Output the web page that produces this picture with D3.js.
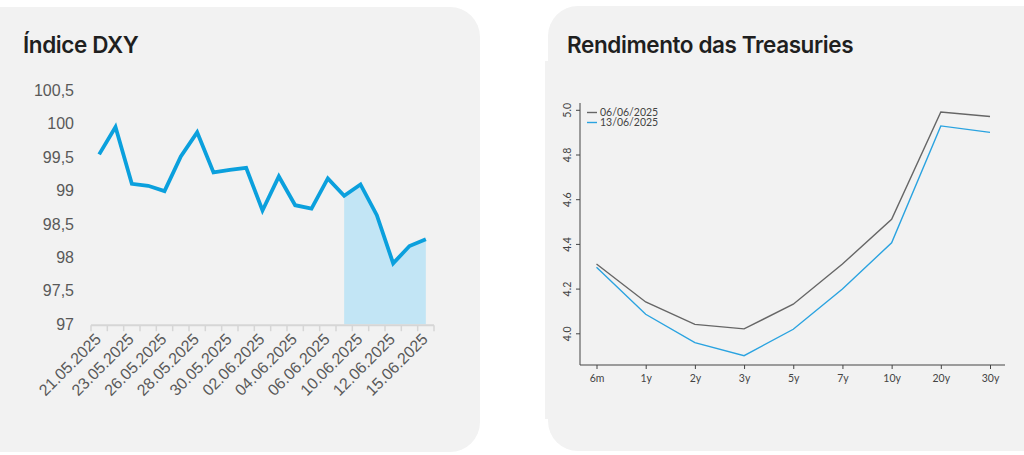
<!DOCTYPE html>
<html><head><meta charset="utf-8">
<script src="https://cdn.jsdelivr.net/npm/d3@7"></script>
<style>html,body{margin:0;padding:0;background:#fff;}svg{display:block;}</style>
</head><body>
<svg id="c" width="1024" height="455"></svg>
<script>
// ---- Data: Índice DXY ----
const dxyDates = ["21.05.2025","22.05.2025","23.05.2025","25.05.2025","26.05.2025","27.05.2025","28.05.2025","29.05.2025","30.05.2025","01.06.2025","02.06.2025","03.06.2025","04.06.2025","05.06.2025","06.06.2025","09.06.2025","10.06.2025","11.06.2025","12.06.2025","13.06.2025","15.06.2025"];
const dxyValues = [99.54,99.95,99.10,99.07,98.99,99.51,99.87,99.27,99.31,99.34,98.70,99.21,98.78,98.73,99.18,98.92,99.09,98.63,97.91,98.17,98.27];
const dxyShadeFrom = "09.06.2025";
const dxyTicks = [97,97.5,98,98.5,99,99.5,100,100.5];
const dxyTickLabels = ["97","97,5","98","98,5","99","99,5","100","100,5"];

// ---- Data: Treasuries ----
const tenors = ["6m","1y","2y","3y","5y","7y","10y","20y","30y"];
const yield0606 = [4.31,4.14,4.04,4.02,4.13,4.31,4.51,4.99,4.97];
const yield1306 = [4.295,4.085,3.958,3.90,4.018,4.198,4.405,4.928,4.899];
const seriesNames = ["06/06/2025","13/06/2025"];
const yTicksT = [4.0,4.2,4.4,4.6,4.8,5.0];

const svg = d3.select("#c");
const bg = "#f2f2f2";

// Panels
svg.append("rect").attr("x",-30).attr("y",7).attr("width",510).attr("height",445).attr("rx",30).attr("fill",bg);
svg.append("rect").attr("x",548).attr("y",6).attr("width",506).attr("height",445).attr("rx",30).attr("fill",bg);
svg.append("rect").attr("x",545).attr("y",61).attr("width",470).attr("height",358).attr("fill",bg);

const titleFont = "Inter, 'Open Sans', sans-serif";
svg.append("text").attr("x",23).attr("y",53).attr("font-family",titleFont).attr("font-weight",600)
  .attr("font-size",22.5).attr("fill","#1f1f1f").attr("letter-spacing","-0.4").text("Índice DXY");
svg.append("text").attr("x",567).attr("y",53).attr("font-family",titleFont).attr("font-weight",600)
  .attr("font-size",22.5).attr("fill","#1f1f1f").attr("letter-spacing","-0.4").text("Rendimento das Treasuries");

// ---- Left chart ----
const L = {x0:91, x1:434, yTop:90.2, yBot:324.2};
const xB = d3.scaleBand().domain(dxyDates).range([L.x0,L.x1]).padding(0);
const yL = d3.scaleLinear().domain([97,100.5]).range([L.yBot,L.yTop]);
const cx = d => xB(d) + xB.bandwidth()/2;
const labFont = "'Liberation Sans', Arial, sans-serif";

const g1 = svg.append("g");
// Shaded area
const shadeIdx = dxyDates.indexOf(dxyShadeFrom);
const shadeData = dxyDates.map((d,i)=>({d,v:dxyValues[i]})).slice(shadeIdx);
g1.append("path").datum(shadeData)
  .attr("d", d3.area().x(p=>cx(p.d)).y0(yL(97)).y1(p=>yL(p.v)))
  .attr("fill","#c2e5f5");

// X axis
const ax = g1.append("g").attr("transform",`translate(0,${yL(97)+1})`);
ax.append("line").attr("x1",L.x0).attr("x2",L.x1).attr("y1",0).attr("y2",0).attr("stroke","#d6d6d6").attr("stroke-width",2);
const edges = dxyDates.map(d=>xB(d)).concat([L.x1]);
ax.selectAll("line.tk").data(edges).join("line").attr("class","tk")
  .attr("x1",d=>d).attr("x2",d=>d).attr("y1",0).attr("y2",6).attr("stroke","#d6d6d6").attr("stroke-width",1.5);
ax.selectAll("text.xl").data(dxyDates.filter((d,i)=>i%2===0)).join("text").attr("class","xl")
  .attr("transform",d=>`translate(${cx(d)+3},${15}) rotate(-45)`)
  .attr("text-anchor","end").attr("font-family",labFont)
  .attr("font-size",16).attr("fill","#595959").text(d=>d);

// Y labels
const yAxisL = d3.axisLeft(yL).tickValues(dxyTicks).tickFormat((d,i)=>dxyTickLabels[i]).tickSize(0).tickPadding(0);
const ay = g1.append("g").attr("transform","translate(74,0)").call(yAxisL);
ay.select(".domain").remove();
ay.selectAll("text").attr("font-family",labFont).attr("font-size",16).attr("fill","#595959");

// Line
g1.append("path").datum(dxyValues)
  .attr("d", d3.line().x((v,i)=>cx(dxyDates[i])).y(v=>yL(v)))
  .attr("fill","none").attr("stroke","#0ba0dd").attr("stroke-width",3.8).attr("stroke-linejoin","miter");

// ---- Right chart ----
const R = {x0:580, x1:1005, yTop:103, yBot:365};
const xP = d3.scalePoint().domain(tenors).range([596.5,990]);
const yR = d3.scaleLinear().domain([4.0,5.0]).range([333.3,109.8]);
const g2 = svg.append("g");
const tickFont = "Lato, 'Open Sans', sans-serif";

g2.append("line").attr("x1",R.x0).attr("x2",R.x0).attr("y1",R.yTop).attr("y2",R.yBot).attr("stroke","#444").attr("stroke-width",1);
g2.append("line").attr("x1",R.x0).attr("x2",R.x1).attr("y1",R.yBot).attr("y2",R.yBot).attr("stroke","#444").attr("stroke-width",1);

const axB = d3.axisBottom(xP).tickSize(4).tickPadding(6).tickSizeOuter(0);
const gxb = g2.append("g").attr("transform",`translate(0,${R.yBot})`).call(axB);
gxb.select(".domain").remove();
gxb.selectAll("line").attr("stroke","#444");
gxb.selectAll("text").attr("font-family",tickFont).attr("font-size",10.5).attr("fill","#444");

const axLft = d3.axisLeft(yR).tickValues(yTicksT).tickFormat(d3.format(".1f")).tickSize(4).tickPadding(0);
const gyl = g2.append("g").attr("transform",`translate(${R.x0},0)`).call(axLft);
gyl.select(".domain").remove();
gyl.selectAll("line").attr("stroke","#444");
gyl.selectAll("text").attr("font-family",tickFont).attr("font-size",10.5).attr("fill","#444")
  .attr("text-anchor","middle").attr("x",0).attr("dy",0)
  .attr("transform","translate(-12.5,0) rotate(-90)").attr("y",3.5);

const colors = ["#666666","#2aa3e0"];
[yield0606,yield1306].forEach((s,k)=>{
  g2.append("path").datum(s)
    .attr("d", d3.line().x((v,i)=>xP(tenors[i])).y(v=>yR(v)))
    .attr("fill","none").attr("stroke",colors[k]).attr("stroke-width",1.4);
});

// legend
seriesNames.forEach((n,k)=>{
  const y = 112.5 + k*10;
  g2.append("line").attr("x1",587).attr("x2",597).attr("y1",y).attr("y2",y).attr("stroke",colors[k]).attr("stroke-width",1.4);
  g2.append("text").attr("x",600).attr("y",y+3.6).attr("font-family",tickFont).attr("font-size",10.5).attr("fill","#444").text(n);
});
</script>
</body></html>
